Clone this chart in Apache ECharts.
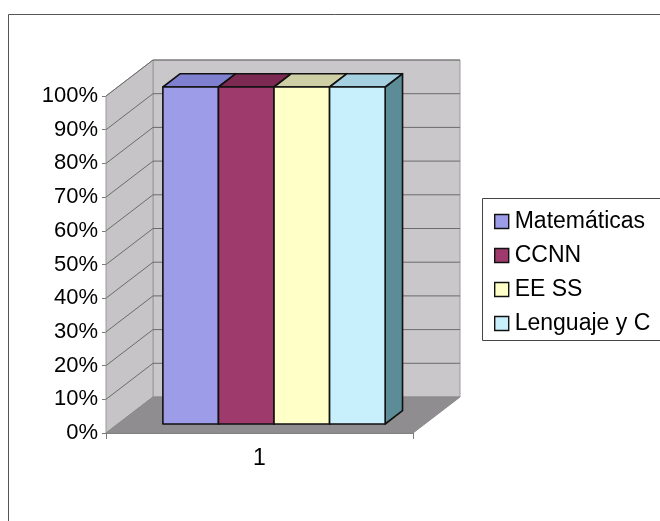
<!DOCTYPE html>
<html>
<head>
<meta charset="utf-8">
<script src="https://cdn.jsdelivr.net/npm/echarts@6/dist/echarts.min.js"></script>
<style>html,body{margin:0;padding:0;background:#fff}#c{width:660px;height:521px}</style>
</head>
<body>
<div id="c"></div>
<script>
// ---- data ----
const categories = ['1'];
const seriesNames = ['Matemáticas', 'CCNN', 'EE SS', 'Lenguaje y C'];
const seriesValues = [100, 100, 100, 100];
const yTicks = [0, 10, 20, 30, 40, 50, 60, 70, 80, 90, 100];

// ---- styles ----
const frontColors = ['#9c9ce8', '#9e3a6c', '#ffffc8', '#c8f0fc'];
const topColors   = ['#8080d0', '#7c2a52', '#cfcfa6', '#a4d0e0'];
const sideColors  = ['#6e6eb8', '#6a2446', '#b8b890', '#5c8c96'];
const DX = 47, DY = -36;          // depth of the 3D box
const F0 = 0.25, F1 = 0.62;       // bar depth range (fraction)
const START = 0.147, BW = 0.181;  // bar placement inside the band

const chart = echarts.init(document.getElementById('c'));

function wallsRender(params, api) {
  const bw = api.size([1, 0])[0];
  const c = api.coord([0, 0]);
  const xl = c[0] - bw / 2, xr = c[0] + bw / 2;
  const y0 = c[1];
  const y100 = api.coord([0, 100])[1];
  const ch = [];
  ch.push({type: 'polygon', shape: {points: [[xl + DX, y100 + DY], [xr + DX, y100 + DY], [xr + DX, y0 + DY], [xl + DX, y0 + DY]]},
    style: {fill: '#c9c7c9', stroke: '#9a9a9a', lineWidth: 1}});
  ch.push({type: 'polygon', shape: {points: [[xl, y100], [xl + DX, y100 + DY], [xl + DX, y0 + DY], [xl, y0]]},
    style: {fill: '#c6c4c6', stroke: '#9a9a9a', lineWidth: 1}});
  ch.push({type: 'polygon', shape: {points: [[xl, y0], [xr, y0], [xr + DX, y0 + DY], [xl + DX, y0 + DY]]},
    style: {fill: '#8f8d8f', stroke: '#8a8a8a', lineWidth: 1}});
  yTicks.forEach(function (t) {
    if (t === 0) return;
    const y = api.coord([0, t])[1];
    ch.push({type: 'polyline', shape: {points: [[xl, y], [xl + DX, y + DY], [xr + DX, y + DY]]},
      style: {fill: null, stroke: '#6c6c6c', lineWidth: 1}});
  });
  return {type: 'group', children: ch};
}

function barRender(i) {
  return function (params, api) {
    const bw = api.size([1, 0])[0];
    const c = api.coord([api.value(0), api.value(1)]);
    const c0 = api.coord([api.value(0), 0]);
    const left = c[0] - bw / 2;
    const x0 = left + bw * (START + i * BW) + DX * F0;
    const x1 = x0 + bw * BW;
    const yT = c[1] + DY * F0;
    const yB = c0[1] + DY * F0;
    const ddx = DX * (F1 - F0), ddy = DY * (F1 - F0);
    const st = {stroke: '#111', lineWidth: 1.6, lineJoin: 'round'};
    return {type: 'group', children: [
      {type: 'polygon', shape: {points: [[x1, yT], [x1 + ddx, yT + ddy], [x1 + ddx, yB + ddy], [x1, yB]]},
        style: Object.assign({fill: sideColors[i]}, st)},
      {type: 'polygon', shape: {points: [[x0, yT], [x0 + ddx, yT + ddy], [x1 + ddx, yT + ddy], [x1, yT]]},
        style: Object.assign({fill: topColors[i]}, st)},
      {type: 'polygon', shape: {points: [[x0, yT], [x1, yT], [x1, yB], [x0, yB]]},
        style: Object.assign({fill: frontColors[i]}, st)}
    ]};
  };
}

const series = [{
  type: 'custom', name: '_walls', renderItem: wallsRender, data: [[0, 0]], silent: true, z: 1
}];
seriesNames.forEach(function (n, i) {
  series.push({
    type: 'custom', name: n, renderItem: barRender(i), z: 2 + i,
    itemStyle: {color: frontColors[i]},
    data: [[0, seriesValues[i]]]
  });
});

chart.setOption({
  animation: false,
  backgroundColor: '#fff',
  textStyle: {fontFamily: 'Liberation Sans, Arial, sans-serif'},
  grid: {left: 106, right: 247, top: 96, bottom: 88},
  xAxis: {
    type: 'category', data: categories,
    axisLine: {show: true, lineStyle: {color: '#7a7a7a', width: 1}},
    axisTick: {show: true, length: 6, lineStyle: {color: '#7a7a7a'}},
    axisLabel: {fontSize: 23, color: '#000', margin: 14}
  },
  yAxis: {
    type: 'value', min: 0, max: 100, interval: 10,
    axisLine: {show: true, lineStyle: {color: '#7a7a7a', width: 1}},
    axisTick: {show: true, length: 4, lineStyle: {color: '#7a7a7a'}},
    splitLine: {show: false},
    axisLabel: {formatter: '{value}%', fontSize: 22, color: '#000', margin: 8}
  },
  legend: {
    orient: 'vertical', left: 489, top: 205,
    data: seriesNames.map(function (n) { return {name: n, icon: 'rect'}; }),
    itemWidth: 14, itemHeight: 14, itemGap: 11, itemStyle: {borderColor: '#111', borderWidth: 1.4},
    textStyle: {fontSize: 23, color: '#000', padding: [0, 0, 0, 1]}
  },
  graphic: [
    {type: 'rect', shape: {x: 8.5, y: 14.5, width: 700, height: 600}, style: {fill: null, stroke: '#555', lineWidth: 1}, z: -10},
    {type: 'rect', shape: {x: 482.5, y: 198.5, width: 220, height: 142}, style: {fill: '#fff', stroke: '#444', lineWidth: 1}, z: -5}
  ],
  series: series
});
</script>
</body>
</html>
